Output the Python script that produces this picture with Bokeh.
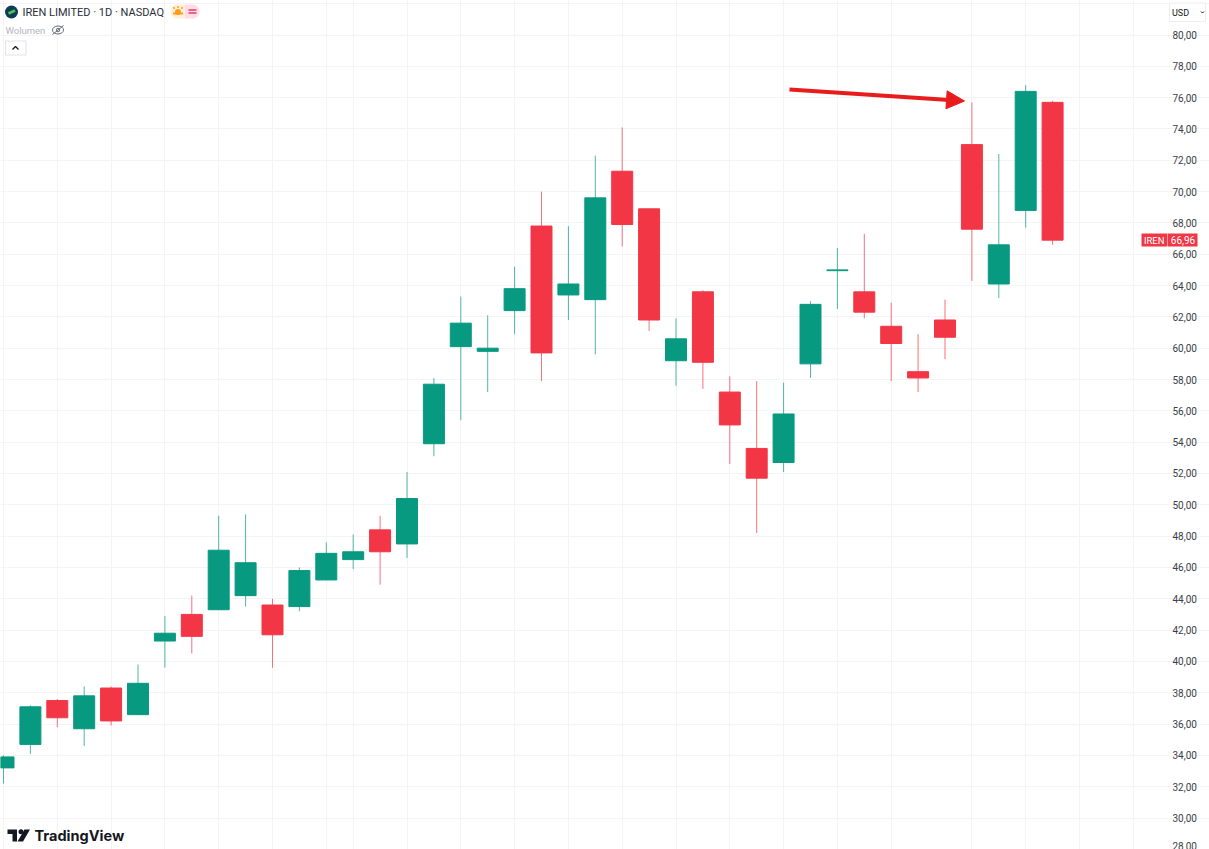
from bokeh.plotting import figure
from bokeh.models import ColumnDataSource, Range1d, FixedTicker, Arrow, NormalHead
from bokeh.core.properties import value
from bokeh.embed import file_html
from bokeh.resources import INLINE

# --- chart data ----------------------------------------------------------
candle_index = list(range(40))
opens = [33.2,34.7,37.5,35.7,38.3,36.6,41.3,43.0,43.3,44.2,43.6,43.5,45.2,46.5,48.4,47.5,
         53.9,60.1,59.8,62.4,67.8,63.4,63.1,71.3,68.9,59.2,63.6,57.2,53.6,52.7,59.0,64.95,
         63.6,61.4,58.5,61.8,73.0,64.1,68.8,75.7]
closes = [33.9,37.1,36.4,37.8,36.2,38.6,41.8,41.6,47.1,46.3,41.7,45.8,46.9,47.0,47.0,50.4,
          57.7,61.6,60.0,63.8,59.7,64.1,69.6,67.9,61.8,60.6,59.1,55.1,51.7,55.8,62.8,65.0,
          62.3,60.3,58.1,60.7,67.6,66.6,76.4,66.9]
highs = [34.0,37.2,37.6,38.4,38.4,39.8,42.9,44.2,49.3,49.4,44.0,46.0,47.6,48.1,49.3,52.1,
         58.1,63.3,62.1,65.2,70.0,67.8,72.3,74.1,68.9,61.9,63.7,58.2,57.9,57.8,63.0,66.4,
         67.3,62.9,60.9,63.1,75.7,72.4,76.8,75.8]
lows = [32.2,34.1,35.8,34.6,35.9,36.6,39.6,40.5,43.3,43.5,39.6,43.2,45.2,45.9,44.9,46.6,
        53.1,55.4,57.2,60.9,57.9,61.8,59.6,66.5,61.1,57.6,57.4,52.6,48.2,52.1,58.1,62.5,
        61.9,57.9,57.2,59.3,64.3,63.2,67.7,66.6]
price_ticks = list(range(28, 82, 2))
price_labels = [f"{t},00" for t in price_ticks]
grid_prices = list(range(28, 84, 2))
grid_candles = [0,2,4,6,8,10,12,13,15,17,19,21,23,25,27,29,31,33,36,38,40,42]
last_price_text = "66,96"
title_text = "IREN LIMITED · 1D · NASDAQ"

GREEN, RED = "#089981", "#F23645"
colors = [GREEN if c >= o else RED for o, c in zip(opens, closes)]
tops = [max(o, c) for o, c in zip(opens, closes)]
bottoms = [min(o, c) for o, c in zip(opens, closes)]

# --- pixel helpers for the overlay decorations ---------------------------
X0, DX = 3.0, 26.9
Y0, DY = 34.5, 15.66
W, H, PANE = 1209, 849, 1167
def PX(px): return (px - X0) / DX
def PY(py): return 80 - (py - Y0) / DY

p = figure(width=W, height=H, output_backend="svg", toolbar_location=None,
           x_range=Range1d(PX(0), PX(W)), y_range=Range1d(PY(H), PY(0)),
           y_axis_location="right", min_border=0,
           background_fill_color="white", border_fill_color="white", outline_line_color=None)
p.styles = {"position": "absolute", "left": "0px", "top": "0px"}

p.xaxis.visible = False
p.xgrid.ticker = FixedTicker(ticks=grid_candles)
p.ygrid.ticker = FixedTicker(ticks=grid_prices)
p.ygrid.bounds = (PX(0), PX(PANE))
p.xgrid.grid_line_color = "#f4f4f5"
p.ygrid.grid_line_color = "#f4f4f5"

ax = p.yaxis[0]
ax.fixed_location = PX(PANE - 6)
ax.ticker = FixedTicker(ticks=price_ticks)
ax.major_label_overrides = dict(zip(price_ticks, price_labels))
ax.major_tick_line_color = None
ax.minor_tick_line_color = None
ax.axis_line_color = None
ax.major_label_standoff = 5
ax.major_label_text_font = "Roboto"
ax.major_label_text_font_size = "10px"
ax.major_label_text_color = "#3a3e48"

src = ColumnDataSource(dict(x=candle_index, top=tops, bottom=bottoms, high=highs, low=lows, color=colors))
p.segment("x", "high", "x", "low", source=src, line_color="color", line_width=1, line_alpha=0.7)
p.vbar(x="x", top="top", bottom="bottom", width=0.78, source=src,
       fill_color="color", line_color="color", line_width=1)

# --- arrow ---------------------------------------------------------------
arrow_x = [789, 964]
arrow_y = [89, 100.5]
ARROW = "#E81C1C"
p.add_layout(Arrow(x_start=PX(arrow_x[0]), y_start=PY(arrow_y[0]), x_end=PX(arrow_x[1]), y_end=PY(arrow_y[1]),
                   line_color=ARROW, line_width=4,
                   end=NormalHead(size=18, fill_color=ARROW, line_color=ARROW, line_width=1)))

# --- header --------------------------------------------------------------
def txt(px, py, s, size, color, font="Roboto", align="left", **kw):
    p.text([PX(px)], [PY(py)], text=[s], text_font=value(font), text_font_size=size,
           text_color=color, text_baseline="middle", text_align=align, **kw)

def box(x0, x1, y0, y1, fill, line=None):
    p.quad(left=[PX(x0)], right=[PX(x1)], top=[PY(y0)], bottom=[PY(y1)], fill_color=fill, line_color=line)

p.scatter([PX(11)], [PY(11.5)], size=13, color="#0E3B55", line_color=None)
p.segment([PX(8)], [PY(13)], [PX(14.5)], [PY(10)], line_color="#4CC35A", line_width=3)
txt(22, 11.5, title_text, "11px", "#2A2E39")
p.scatter([PX(177), PX(192)], [PY(11), PY(11)], size=14, color=["#FFF0DC", "#FCDDE6"], line_color=None)
box(177, 184.5, 4, 18, "#FFF0DC")
box(184.5, 192, 4, 18, "#FCDDE6")
p.scatter([PX(177.5)], [PY(11.5)], size=6, color="#FF9C1A", line_color=None)
box(172.5, 182.5, 12, 14, "#FF9C1A")
p.scatter([PX(173.5), PX(177.5), PX(181.5)], [PY(7.5), PY(6.5), PY(7.5)], size=2, color="#FF9C1A", line_color=None)
p.segment([PX(188)]*2, [PY(9.5), PY(12.5)], [PX(196)]*2, [PY(9.5), PY(12.5)], line_color="#E8386D", line_width=1.3)

txt(5, 29.5, "Wolumen", "9.5px", "#B2B5BE")
p.ellipse([PX(57.5)], [PY(29.5)], width=11/DX, height=8/DY, fill_color=None, line_color="#6A6D78", line_width=1)
p.scatter([PX(57.5)], [PY(29.5)], size=3.5, fill_color=None, line_color="#6A6D78", line_width=1)
p.segment([PX(52)], [PY(34)], [PX(63)], [PY(25)], line_color="#6A6D78", line_width=1)
box(5, 25.5, 40.5, 54.5, "white", "#E0E3EB")
p.line([PX(12), PX(15), PX(18)], [PY(49), PY(46), PY(49)], line_color="#131722", line_width=1.3)

# --- TradingView watermark ----------------------------------------------
LOGO = "#131722"
p.patch([PX(v) for v in [7, 16.5, 16.5, 12, 12, 7]], [PY(v) for v in [829, 829, 841, 841, 833.5, 833.5]],
        fill_color=LOGO, line_color=None)
p.scatter([PX(20.5)], [PY(831.3)], size=5, color=LOGO, line_color=None)
p.patch([PX(v) for v in [24, 29.5, 22.5, 17]], [PY(v) for v in [829, 829, 841, 841]], fill_color=LOGO, line_color=None)
txt(34, 835, "TradingView", "14.5px", LOGO, font="Inter", text_font_style="bold")

# --- price-scale tags and currency button --------------------------------
box(1141, 1166.5, 233, 246, RED)
box(1167, 1197, 233, 246, RED)
txt(1153.7, 239.8, "IREN", "9.5px", "white", align="center")
txt(1182.5, 239.8, last_price_text, "10px", "white", align="center")
box(1169, 1205, 2.5, 21, "white", "#ECEEF3")
txt(1171.5, 12, "USD", "9px", "#131722")
p.line([PX(1200.5), PX(1202), PX(1203.5)], [PY(11), PY(12.5), PY(11)], line_color="#131722", line_width=1)

open("out.html", "w").write(file_html(p, INLINE))
